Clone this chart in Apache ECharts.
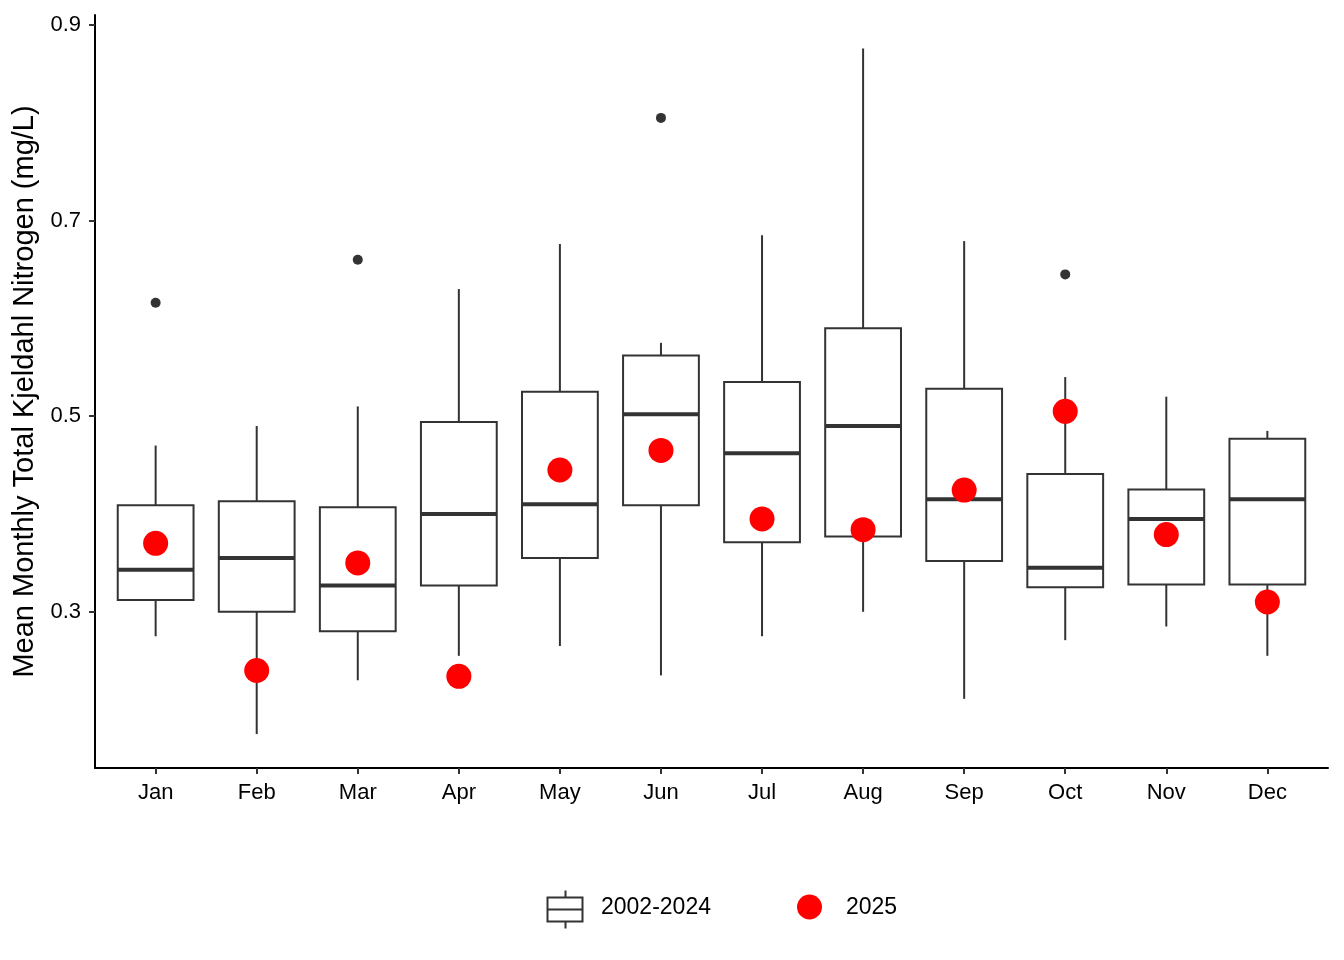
<!DOCTYPE html>
<html>
<head>
<meta charset="utf-8">
<script src="https://cdn.jsdelivr.net/npm/echarts@6/dist/echarts.min.js"></script>
<style>
html,body{margin:0;padding:0;background:#fff;}
#chart{width:1344px;height:960px;}
</style>
</head>
<body>
<div id="chart"></div>
<script>
// Categories
var months = ['Jan','Feb','Mar','Apr','May','Jun','Jul','Aug','Sep','Oct','Nov','Dec'];
// 2002-2024 boxplot statistics per month
var whiskerLow  = [0.275, 0.175, 0.230, 0.255, 0.265, 0.235, 0.275, 0.300, 0.211, 0.271, 0.285, 0.255];
var q1          = [0.312, 0.300, 0.280, 0.327, 0.355, 0.409, 0.371, 0.377, 0.352, 0.325, 0.328, 0.328];
var median      = [0.343, 0.355, 0.327, 0.400, 0.410, 0.502, 0.462, 0.490, 0.415, 0.345, 0.395, 0.415];
var q3          = [0.409, 0.413, 0.407, 0.494, 0.525, 0.562, 0.535, 0.590, 0.528, 0.441, 0.425, 0.477];
var whiskerHigh = [0.470, 0.490, 0.510, 0.630, 0.676, 0.575, 0.685, 0.876, 0.679, 0.540, 0.520, 0.485];
// Outliers: month index (1-based), value
var outlierMonth = [1, 3, 6, 10];
var outlierValue = [0.616, 0.660, 0.805, 0.645];
// 2025 monthly means
var values2025 = [0.370, 0.240, 0.350, 0.234, 0.445, 0.465, 0.395, 0.384, 0.4245, 0.505, 0.379, 0.310];
// Y tick labels
var yTicks = [0.3, 0.5, 0.7, 0.9];

var boxData = months.map(function (m, i) {
  return [i + 1, whiskerLow[i], q1[i], median[i], q3[i], whiskerHigh[i]];
});
var outlierData = outlierMonth.map(function (m, i) { return [m, outlierValue[i]]; });
var pointData = values2025.map(function (v, i) { return [i + 1, v]; });
var xTicks = months.map(function (m, i) { return i + 1; });

var FONT = '"Liberation Sans", Arial, sans-serif';
var DARK = '#333333';

var chart = echarts.init(document.getElementById('chart'), null, {renderer: 'canvas'});

function renderBox(params, api) {
  var x = api.value(0);
  var pLow = api.coord([x, api.value(1)]);
  var pQ1 = api.coord([x, api.value(2)]);
  var pMed = api.coord([x, api.value(3)]);
  var pQ3 = api.coord([x, api.value(4)]);
  var pHigh = api.coord([x, api.value(5)]);
  var halfW = api.size([0.75, 0])[0] / 2;
  var cx = pMed[0];
  var lineStyle = {stroke: DARK, lineWidth: 2, fill: null};
  return {
    type: 'group',
    children: [
      {type: 'line', shape: {x1: cx, y1: pHigh[1], x2: cx, y2: pQ3[1]}, style: lineStyle},
      {type: 'line', shape: {x1: cx, y1: pQ1[1], x2: cx, y2: pLow[1]}, style: lineStyle},
      {type: 'rect', shape: {x: cx - halfW, y: pQ3[1], width: halfW * 2, height: pQ1[1] - pQ3[1]},
        style: {stroke: DARK, lineWidth: 2, fill: '#ffffff'}},
      {type: 'line', shape: {x1: cx - halfW, y1: pMed[1], x2: cx + halfW, y2: pMed[1]},
        style: {stroke: DARK, lineWidth: 4}}
    ]
  };
}

var option = {
  backgroundColor: '#ffffff',
  animation: false,
  textStyle: {fontFamily: FONT},
  grid: {left: 95, right: 16, top: 15, bottom: 192, containLabel: false},
  xAxis: {
    type: 'value',
    min: 0.4,
    max: 12.6,
    splitLine: {show: false},
    axisLine: {show: true, onZero: false, lineStyle: {color: '#000000', width: 2}},
    axisTick: {show: true, customValues: xTicks, length: 6, lineStyle: {color: DARK, width: 2}},
    axisLabel: {
      show: true,
      customValues: xTicks,
      margin: 14,
      color: '#000000',
      fontSize: 22,
      fontFamily: FONT,
      formatter: function (v) { return months[Math.round(v) - 1] || ''; }
    }
  },
  yAxis: {
    type: 'value',
    min: 0.1403,
    max: 0.9102,
    name: 'Mean Monthly Total Kjeldahl Nitrogen (mg/L)',
    nameLocation: 'middle',
    nameGap: 55,
    nameTextStyle: {fontSize: 29, color: '#000000', fontFamily: FONT},
    splitLine: {show: false},
    axisLine: {show: true, onZero: false, lineStyle: {color: '#000000', width: 2}},
    axisTick: {show: true, customValues: yTicks, length: 6, lineStyle: {color: DARK, width: 2}},
    axisLabel: {
      show: true,
      customValues: yTicks,
      margin: 14,
      color: '#000000',
      fontSize: 22,
      fontFamily: FONT,
      formatter: function (v) { return v.toFixed(1); }
    }
  },
  series: [
    {
      name: '2002-2024',
      type: 'custom',
      renderItem: renderBox,
      encode: {x: 0, y: [1, 2, 3, 4, 5]},
      data: boxData,
      z: 2
    },
    {
      name: 'outliers',
      type: 'scatter',
      symbol: 'circle',
      symbolSize: 10,
      itemStyle: {color: DARK, opacity: 1},
      data: outlierData,
      z: 3
    },
    {
      name: '2025',
      type: 'scatter',
      symbol: 'circle',
      symbolSize: 25,
      itemStyle: {color: '#ff0000', opacity: 1},
      data: pointData,
      z: 4
    }
  ],
  graphic: [
    {
      type: 'group',
      left: 545,
      top: 888,
      children: [
        {type: 'line', shape: {x1: 18, y1: 0, x2: 18, y2: 7}, style: {stroke: DARK, lineWidth: 2}},
        {type: 'rect', shape: {x: 0, y: 7, width: 35, height: 24}, style: {stroke: DARK, lineWidth: 2, fill: '#fff'}},
        {type: 'line', shape: {x1: 0, y1: 19, x2: 35, y2: 19}, style: {stroke: DARK, lineWidth: 2}},
        {type: 'line', shape: {x1: 18, y1: 31, x2: 18, y2: 38}, style: {stroke: DARK, lineWidth: 2}}
      ]
    },
    {type: 'text', x: 601, y: 908, style: {text: '2002-2024', fontSize: 23, fontFamily: FONT, fill: '#000', verticalAlign: 'middle'}},
    {type: 'circle', shape: {cx: 809.5, cy: 907, r: 12.5}, style: {fill: '#ff0000'}},
    {type: 'text', x: 846, y: 908, style: {text: '2025', fontSize: 23, fontFamily: FONT, fill: '#000', verticalAlign: 'middle'}}
  ]
};
chart.setOption(option);
</script>
</body>
</html>
